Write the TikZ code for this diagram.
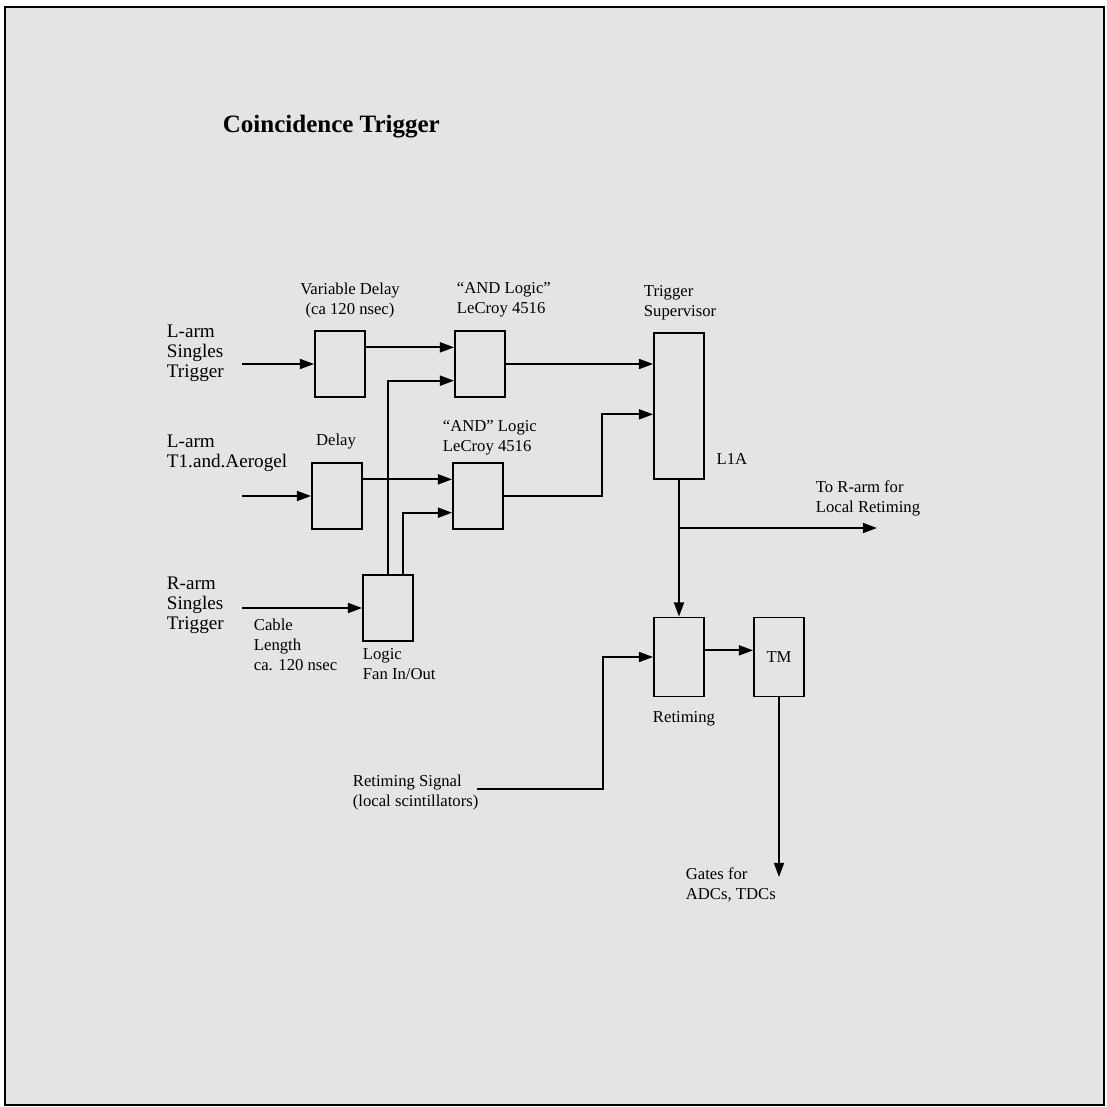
\documentclass[tikz,border=0pt]{standalone}
\usepackage{fontspec}
\setmainfont{Liberation Serif}
\usetikzlibrary{arrows.meta,positioning}
\definecolor{scangray}{HTML}{E4E4E4}

\begin{document}
\begin{tikzpicture}[x=0.6pt,y=-0.6pt,line width=1.1pt,
    >={Triangle[length=8.5pt,width=6pt]},
    blk/.style={rectangle,draw,minimum width=30pt,minimum height=39.6pt,inner sep=0pt},
    lbl/.style={font=\fontsize{10}{12}\selectfont,align=left,inner sep=0pt},
    biglbl/.style={font=\fontsize{11.5}{12}\selectfont,align=left,inner sep=0pt}]
    \useasboundingbox (0,0) rectangle (1107,1107);
    \draw[fill=scangray,line width=1.4pt] (5,7) rectangle (1104,1105);

    \node[font=\bfseries\fontsize{15}{18}\selectfont,inner sep=0pt,anchor=west] (title) at (222,127) {Coincidence Trigger};

    % input signals
    \node[biglbl,anchor=west] (lsinlbl) at (166,353) {L-arm\\Singles\\Trigger};
    \coordinate (lsin) at (242,364);
    \node[biglbl,anchor=west] (ltlbl) at (166,453) {L-arm\\T1.and.Aerogel};
    \coordinate (ltin) at (242,496);
    \node[biglbl,anchor=west] (rslbl) at (166,605) {R-arm\\Singles\\Trigger};
    \coordinate (rsin) at (242,608);
    \node[lbl,anchor=west] (cablbl) at (253,645) {Cable\\Length\\ca. 120 nsec};

    % delays
    \node[blk] (vdelay) at (340,364) {};
    \node[lbl,align=center] (vdlbl) at (350,300) {Variable Delay\\(ca 120 nsec)};
    \draw[->] (lsin) -- (vdelay);

    \node[blk] (delay) at (337,496) {};
    \node[lbl] (dlbl) at (336,442) {Delay};
    \draw[->] (ltin) -- (delay);

    \node[blk] (fan) at (388,608) {};
    \node[lbl,anchor=west] (fanlbl) at (362,664) {Logic\\Fan In/Out};
    \draw[->] (rsin) -- (fan);

    % coincidence units
    \node[blk] (and1) at (480,364) {};
    \node[lbl,anchor=west] (and1lbl) at (456,300) {“AND Logic”\\LeCroy 4516};
    \draw[->] ([yshift=10pt]vdelay.east) -- ([yshift=10pt]and1.west);
    \draw[->] (fan.north) |- ([yshift=-10pt]and1.west);

    \node[blk] (and2) at (478,496) {};
    \node[lbl,anchor=west] (and2lbl) at (442,438) {“AND” Logic\\LeCroy 4516};
    \draw[->] ([yshift=10pt]delay.east) -- ([yshift=10pt]and2.west);
    \draw[->] ([xshift=9pt]fan.north) |- ([yshift=-10pt]and2.west);

    % trigger supervisor
    \node[blk,minimum height=87.6pt] (ts) at (679,406) {};
    \node[lbl,anchor=west] (tslbl) at (643,303) {Trigger\\Supervisor};
    \node[lbl] (l1a) at (732,459) {L1A};
    \draw[->] (and1.east) -- (and1.east -| ts.west);
    \draw[->] (and2.east) -- ++(98,0) |- ([yshift=-5pt]ts.west);

    \coordinate (tor) at (877,528);
    \node[lbl,anchor=west] (torlbl) at (815,498) {To R-arm for\\Local Retiming};
    \draw[->] (ts.south |- tor) -- (tor);

    % retiming
    \node[blk,minimum height=47.4pt] (retime) at (679,657) {};
    \node[lbl] (retlbl) at (684,719) {Retiming};
    \draw[->] (ts.south) -- (retime.north);

    \node[blk,minimum height=47.4pt] (tm) at (779,657) {\fontsize{10}{12}\selectfont TM};
    \draw[->] ([yshift=4pt]retime.east) -- ([yshift=4pt]tm.west);

    \coordinate (rsig) at (477,789);
    \node[lbl,anchor=west] (rsiglbl) at (352,792) {Retiming Signal\\(local scintillators)};
    \draw[->] (rsig) -- ++(126,0) |- (retime.west);

    \coordinate (gates) at (779,877);
    \node[lbl,anchor=west] (gateslbl) at (685,885) {Gates for\\ADCs, TDCs};
    \draw[->] (tm.south) -- (gates);
\end{tikzpicture}
\end{document}
